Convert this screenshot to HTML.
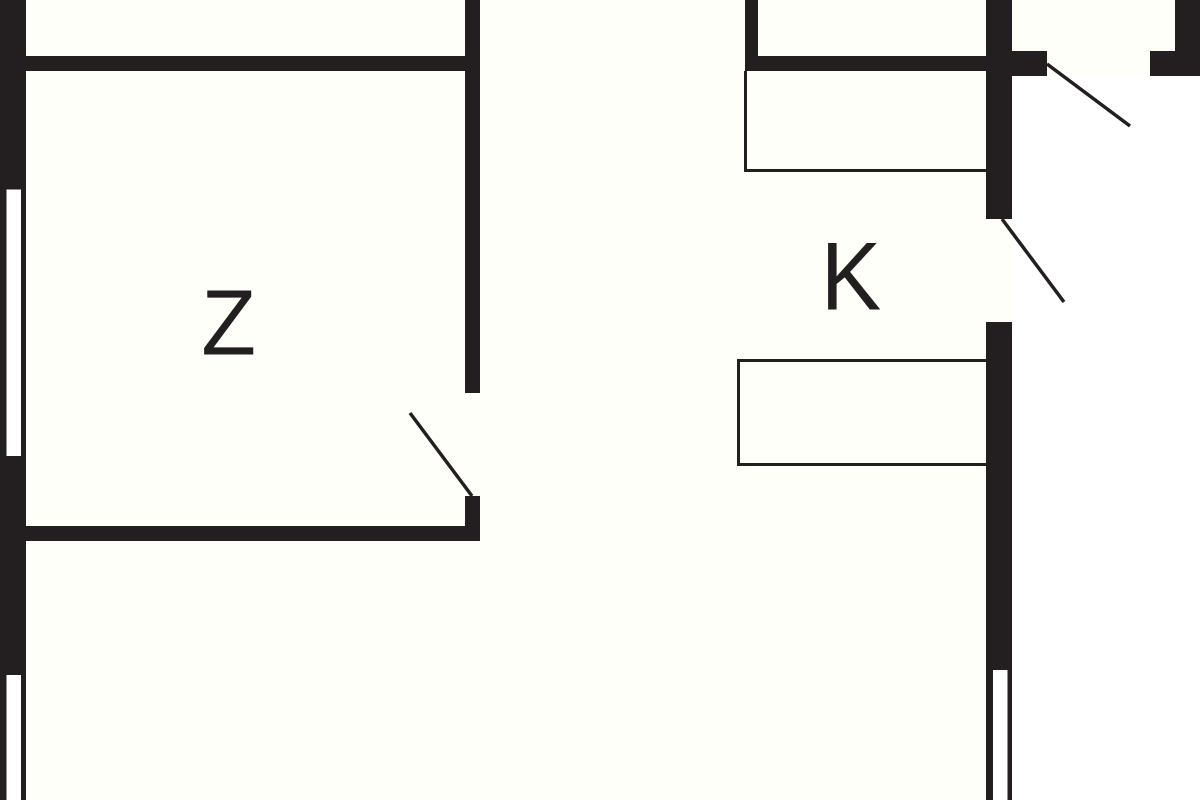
<!DOCTYPE html>
<html>
<head>
<meta charset="utf-8">
<style>
html,body{margin:0;padding:0;background:#fff;width:1200px;height:800px;overflow:hidden}
svg{display:block}
text{font-family:"Liberation Sans",sans-serif;fill:#231f20}
</style>
</head>
<body>
<svg width="1200" height="800" viewBox="0 0 1200 800" xmlns="http://www.w3.org/2000/svg">
<rect width="1200" height="800" fill="#ffffff"/>
<rect x="0" y="0" width="1012" height="800" fill="#fffffa"/>
<rect x="1012" y="0" width="163" height="76" fill="#fffffa"/>
<g fill="#231f20">
<rect x="0" y="0" width="26" height="800"/>
<rect x="26" y="56" width="454" height="15"/>
<rect x="465" y="0" width="15" height="393"/>
<rect x="465" y="496" width="15" height="45"/>
<rect x="26" y="526" width="454" height="15"/>
<rect x="745" y="0" width="13" height="71"/>
<rect x="745" y="56" width="241" height="15"/>
<rect x="986" y="0" width="26" height="219"/>
<rect x="986" y="322" width="26" height="478"/>
<rect x="1012" y="51" width="35" height="25"/>
<rect x="1150" y="51" width="50" height="25"/>
<rect x="1175" y="0" width="25" height="51"/>
</g>
<g fill="#ffffff">
<rect x="6.5" y="189.5" width="14.5" height="266.5"/>
<rect x="6.5" y="675" width="14.5" height="125"/>
<rect x="993" y="670" width="14.5" height="130"/>
</g>
<g fill="none" stroke="#231f20" stroke-width="3">
<path d="M745.5 71V170.5H986"/>
<path d="M986 360.5H738.5V464.5H986"/>
</g>
<g fill="none" stroke="#231f20" stroke-width="3.5">
<path d="M1047 64L1130 126"/>
<path d="M1002 219L1064 302"/>
<path d="M472 496L410 413"/>
</g>
<text transform="translate(201.3 354.7) scale(.965 1)" font-size="93">Z</text>
<text transform="translate(820.6 309.4) scale(.94 1)" font-size="96.8">K</text>
</svg>
</body>
</html>
